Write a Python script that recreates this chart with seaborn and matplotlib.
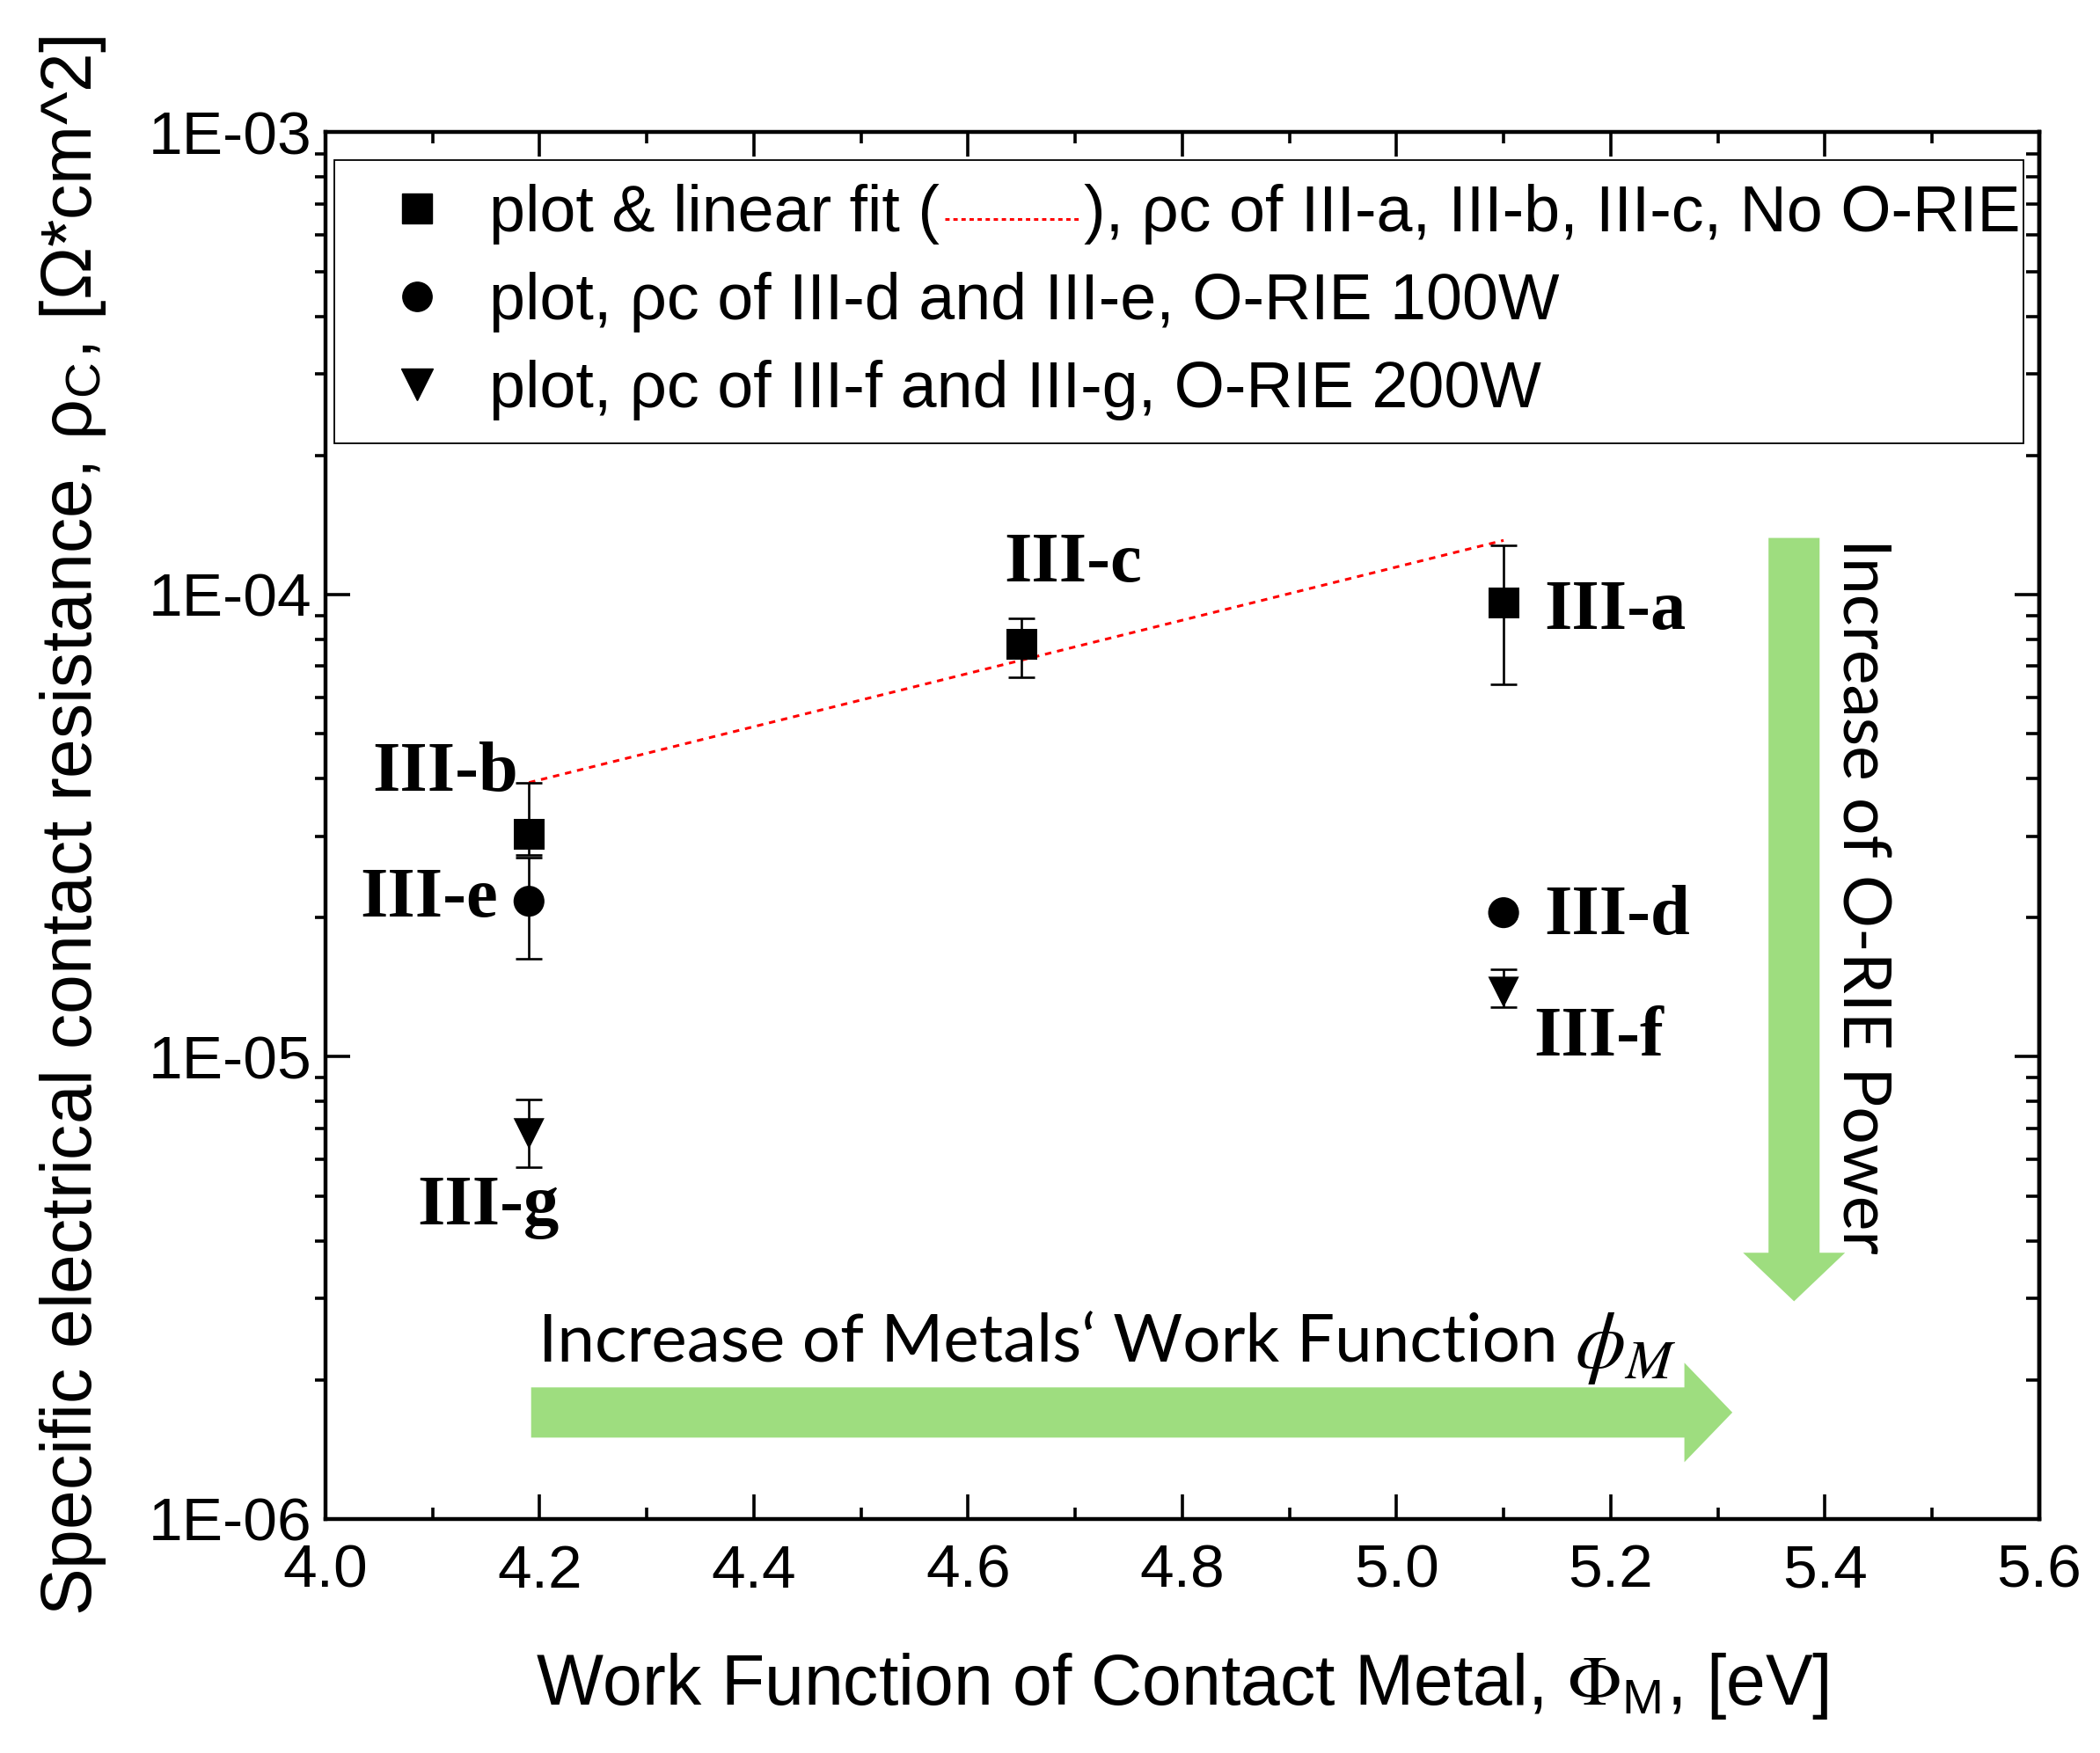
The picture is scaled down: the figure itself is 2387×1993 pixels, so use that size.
import numpy as np
import pandas as pd
import matplotlib
matplotlib.use("Agg")
import matplotlib.pyplot as plt
import seaborn as sns
from matplotlib.lines import Line2D
from matplotlib.patches import FancyArrow
from matplotlib.ticker import LogLocator, MultipleLocator, FuncFormatter, NullFormatter, FormatStrFormatter

# work function (eV) and rho_c (Ohm*cm^2), with error bar bounds
sq_x = [5.10, 4.19, 4.65]
sq_y = [9.6e-5, 3.03e-5, 7.8e-5]
sq_lo = [6.4e-5, 2.73e-5, 6.62e-5]
sq_hi = [1.28e-4, 3.92e-5, 8.9e-5]
sq_names = ["III-a", "III-b", "III-c"]

ci_x = [5.10, 4.19]
ci_y = [2.05e-5, 2.17e-5]
ci_lo = [1.99e-5, 1.63e-5]
ci_hi = [2.11e-5, 2.70e-5]
ci_names = ["III-d", "III-e"]

tr_x = [5.10, 4.19]
tr_y = [1.38e-5, 6.82e-6]
tr_lo = [1.28e-5, 5.77e-6]
tr_hi = [1.545e-5, 8.1e-6]
tr_names = ["III-f", "III-g"]

fit_x = [4.19, 5.10]
fit_y = [3.92e-5, 1.31e-4]

legend_labels = [
    "plot & linear fit (        ), ρc of III-a, III-b, III-c, No O-RIE",
    "plot, ρc of III-d and III-e, O-RIE 100W",
    "plot, ρc of III-f and III-g, O-RIE 200W",
]

sns.set_style("ticks")
plt.rcParams['font.family'] = ['Liberation Sans', 'DejaVu Sans']
plt.rcParams['mathtext.fontset'] = 'stix'
for k in ['text.color', 'axes.labelcolor', 'xtick.color', 'ytick.color', 'axes.edgecolor']:
    plt.rcParams[k] = 'black'

green = '#9edd7f'

fig = plt.figure(figsize=(23.87, 19.93), dpi=100)
ax = fig.add_axes([0.155, 0.1335, 0.816, 0.791])

df = pd.DataFrame({
    "phi": sq_x + ci_x + tr_x,
    "rho": sq_y + ci_y + tr_y,
    "grp": ["sq"] * 3 + ["ci"] * 2 + ["tr"] * 2,
})

# fit line
sns.lineplot(x=fit_x, y=fit_y, ax=ax, color='red', linestyle=(0, (2.4, 2.2)), linewidth=2.2, zorder=3)

# error bars
for xs, ys, lo, hi in [(sq_x, sq_y, sq_lo, sq_hi), (ci_x, ci_y, ci_lo, ci_hi), (tr_x, tr_y, tr_lo, tr_hi)]:
    ys = np.array(ys)
    err = [ys - np.array(lo), np.array(hi) - ys]
    ax.errorbar(xs, ys, yerr=err, fmt='none', ecolor='black', elinewidth=1.9,
                capsize=11, capthick=1.9, zorder=4)

sns.scatterplot(data=df, x="phi", y="rho", style="grp", markers={"sq": "s", "ci": "o", "tr": "v"},
                color='black', s=640, linewidth=0, legend=False, ax=ax, zorder=5)

ax.set_yscale('log')
ax.set_xlim(4.0, 5.6)
ax.set_ylim(1e-6, 1e-3)

# point labels
names = sq_names + ci_names + tr_names
xs_all = sq_x + ci_x + tr_x
ys_all = sq_y + ci_y + tr_y
offsets = {
    "III-a": (46, 10, 'left'),
    "III-b": (-12, -69, 'right'),
    "III-c": (-20, -91, 'left'),
    "III-d": (46, 5, 'left'),
    "III-e": (-35, -2, 'right'),
    "III-f": (34, 53, 'left'),
    "III-g": (-46, 84, 'center'),
}
for n, x, y in zip(names, xs_all, ys_all):
    dx, dy, ha = offsets[n]
    ax.annotate(n, (x, y), xytext=(dx * 0.72, -dy * 0.72), textcoords='offset points',
                ha=ha, va='center', fontsize=58, fontweight='bold',
                family=['Liberation Serif'], zorder=6)

# green arrows
ax.add_patch(FancyArrow(0.120, 0.0768, 0.701, 0, width=0.0362, head_width=0.0717,
                        head_length=0.028, length_includes_head=True,
                        transform=ax.transAxes, color=green, lw=0, zorder=2))
ax.add_patch(FancyArrow(0.857, 0.7075, 0, -0.5505, width=0.0298, head_width=0.0595,
                        head_length=0.035, length_includes_head=True,
                        transform=ax.transAxes, color=green, lw=0, zorder=2))
t_h = ax.text(0.1242, 0.113, "Increase of Metals\u2018 Work Function ", transform=ax.transAxes,
              fontsize=55, family=['Lato', 'DejaVu Sans'], ha='left', va='baseline')
ax.annotate("$\\phi_M$", xy=(1.0, 0.0), xycoords=t_h, xytext=(0, -10), textcoords='offset points',
            fontsize=66, ha='left', va='bottom')
ax.text(0.8855, 0.7075, "Increase of O-RIE Power", transform=ax.transAxes,
        fontsize=54, family=['Lato', 'DejaVu Sans'], rotation=-90, rotation_mode='anchor',
        ha='left', va='baseline')

# axes styling
for s in ax.spines.values():
    s.set_linewidth(3.2)
    s.set_color('black')
ax.yaxis.set_major_locator(LogLocator(base=10, numticks=10))
ax.yaxis.set_minor_locator(LogLocator(base=10, subs=np.arange(2, 10), numticks=20))
ax.yaxis.set_major_formatter(FuncFormatter(lambda v, p: f"{v:.0E}"))
ax.yaxis.set_minor_formatter(NullFormatter())
ax.xaxis.set_major_locator(MultipleLocator(0.2))
ax.xaxis.set_minor_locator(MultipleLocator(0.1))
ax.xaxis.set_major_formatter(FormatStrFormatter('%.1f'))

ax.tick_params(axis='x', which='both', direction='in', top=True, bottom=True, width=2.6,
               labelsize=50, pad=20, colors='black')
ax.tick_params(axis='x', which='major', length=20)
ax.tick_params(axis='x', which='minor', length=9.5)
ax.tick_params(axis='y', which='major', direction='in', left=True, right=False, length=20,
               width=2.6, labelsize=50, pad=11, colors='black')
ax.tick_params(axis='y', which='minor', direction='out', left=True, right=False, length=8.5,
               width=2.6, colors='black')

sec = ax.secondary_yaxis('right')
sec.yaxis.set_major_locator(LogLocator(base=10, numticks=10))
sec.yaxis.set_minor_locator(LogLocator(base=10, subs=np.arange(2, 10), numticks=20))
sec.tick_params(axis='y', which='both', direction='in', labelright=False, width=2.6, colors='black')
sec.tick_params(axis='y', which='major', length=20)
sec.tick_params(axis='y', which='minor', length=10.5)
sec.spines['right'].set_linewidth(3.2)
sec.spines['right'].set_color('black')

ax.set_xlabel("Work Function of Contact Metal, $\\mathit{\\Phi}_\\mathregular{M}$, [eV]", fontsize=58)
ax.set_ylabel("Specific electrical contact resistance, ρ$_\\mathregular{C}$, [Ω*cm^2]", fontsize=58)
ax.xaxis.set_label_coords(0.5, -0.095)
ax.yaxis.set_label_coords(-0.127, 0.5)

# legend
handles = [
    Line2D([], [], marker='s', color='black', ls='none', markersize=24),
    Line2D([], [], marker='o', color='black', ls='none', markersize=24),
    Line2D([], [], marker='v', color='black', ls='none', markersize=26),
]
leg = ax.legend(handles, legend_labels, loc='upper left', bbox_to_anchor=(0.005, 0.9797, 0.986, 0.0),
                mode='expand', borderaxespad=0, fontsize=53, frameon=True, fancybox=False,
                edgecolor='black', framealpha=1, handlelength=1.85, handletextpad=0.18,
                borderpad=0.36, labelspacing=0.42)
leg.get_frame().set_linewidth(1.3)
leg.set_zorder(7)

# red dotted sample inside the first legend label
fig.canvas.draw()
renderer = fig.canvas.get_renderer()
t0 = leg.get_texts()[0]
bb = t0.get_window_extent(renderer)
label = legend_labels[0]
pre = label[:label.index('(') + 1]
gap = label[:label.index(')')]
tmp = fig.text(0, 0, pre, fontproperties=t0.get_fontproperties())
w_pre = tmp.get_window_extent(renderer).width
tmp.set_text(gap)
w_gap = tmp.get_window_extent(renderer).width
tmp.remove()
ymid = bb.y0 + bb.height * 0.42
x1 = bb.x0 + w_pre + 6
x2 = bb.x0 + w_gap - 6
inv = fig.transFigure.inverted()
(fx1, fy), (fx2, _) = inv.transform([(x1, ymid), (x2, ymid)])
fig.add_artist(Line2D([fx1, fx2], [fy, fy], transform=fig.transFigure, color='red',
                      linestyle=(0, (1.6, 1.4)), linewidth=2.2, zorder=10))

fig.savefig("out.png", dpi=100)
